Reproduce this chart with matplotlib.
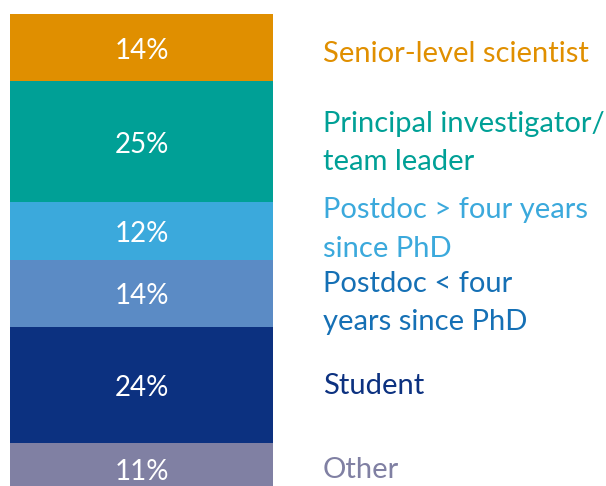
import matplotlib
matplotlib.use("Agg")
import matplotlib.pyplot as plt
import matplotlib.transforms as mtransforms

# --- 数据：自上而下堆叠 ---
categories = ["Senior-level scientist", "Principal investigator/\nteam leader",
              "Postdoc > four years\nsince PhD", "Postdoc < four\nyears since PhD",
              "Student", "Other"]
shares = [14, 25, 12, 14, 24, 11]
bar_colors = ["#E08F00", "#00A096", "#3BA9DC", "#5B8BC5", "#0C3180", "#8080A3"]
text_colors = ["#E08F00", "#00A096", "#3BA9DC", "#1570B5", "#0C3180", "#8080A3"]
label_shift = [1.2, 0.3, -0.3, 2.0, 0.1, 0.2]   # 避免右侧文字互相挤

plt.rcParams["font.family"] = ["Lato", "DejaVu Sans"]

W, H = 606, 486
fig = plt.figure(figsize=(W / 100, H / 100), dpi=100)
# 柱子顶在 14px 处，每 1% 约 4.82px，底部一截被裁掉
ax = fig.add_axes([10 / W, (H - 14 - 482) / H, 263 / W, 482 / H])
ax.set_xlim(-0.5, 0.5)
ax.set_ylim(100, 0)
ax.axis("off")

bottom = 0
for cat, v, bc, tc, dy in zip(categories, shares, bar_colors, text_colors, label_shift):
    ax.bar(0, v, bottom=bottom, width=1, color=bc, linewidth=0)
    mid = bottom + v / 2
    ax.text(0, mid + 0.6, f"{v}%", color="white", fontsize=20, ha="center", va="center")
    trans = mtransforms.blended_transform_factory(fig.transFigure, ax.transData)
    ax.text(323 / W, mid + dy, cat, transform=trans, color=tc, fontsize=21,
            ha="left", va="center", linespacing=1.58, clip_on=False)
    bottom += v

fig.savefig("out.png", dpi=100)
